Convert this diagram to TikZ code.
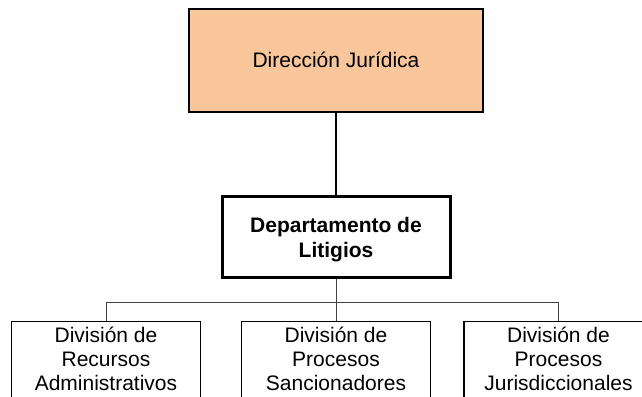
\documentclass[tikz,border=0pt]{standalone}
\usepackage{fontspec}
\setmainfont{Liberation Sans}
\definecolor{dirfill}{RGB}{249,198,155}
\begin{document}
\begin{tikzpicture}[x=1pt, y=1pt,
  every node/.style={font=\fontsize{21}{25}\selectfont, align=center},
  dirbox/.style={draw, line width=1.2pt, fill=dirfill, minimum width=294pt, minimum height=103pt, inner sep=0pt, text height=14pt, text depth=0pt},
  depbox/.style={draw, line width=3pt, minimum width=228pt, minimum height=81pt, inner sep=0pt, text height=40pt, text depth=0pt, font=\fontsize{21}{25}\selectfont\bfseries},
  divbox/.style={draw, line width=1.2pt, anchor=north, minimum width=189pt, inner xsep=0pt, inner ysep=3pt, text height=66pt, text depth=15pt, font=\fontsize{21}{24}\selectfont},
  conn/.style={line width=0.9pt, black!75}]
  \useasboundingbox (0,0) rectangle (642,396);
  \clip (0,0) rectangle (642,396);
  % Direccion box
  \node[dirbox] (dir) at (336,335.5) {Dirección Jurídica};
  % Departamento box
  \node[depbox] (dep) at (336,158.5) {Departamento de\\Litigios};
  % Division boxes
  \node[divbox] (div1) at (106,75) {División de\\Recursos\\Administrativos};
  \node[divbox] (div2) at (336,75) {División de\\Procesos\\Sancionadores};
  \node[divbox] (div3) at (558.5,75) {División de\\Procesos\\Jurisdiccionales};
  % Lines
  \coordinate (bus) at (0,94);
  \draw[line width=1.1pt] (dir.south) -- (dep.north);
  \draw[conn] (dep.south) -- (div2.north);
  \draw[conn] (dep.south |- bus) -| (div1.north);
  \draw[conn] (dep.south |- bus) -| (div3.north);
\end{tikzpicture}
\end{document}
